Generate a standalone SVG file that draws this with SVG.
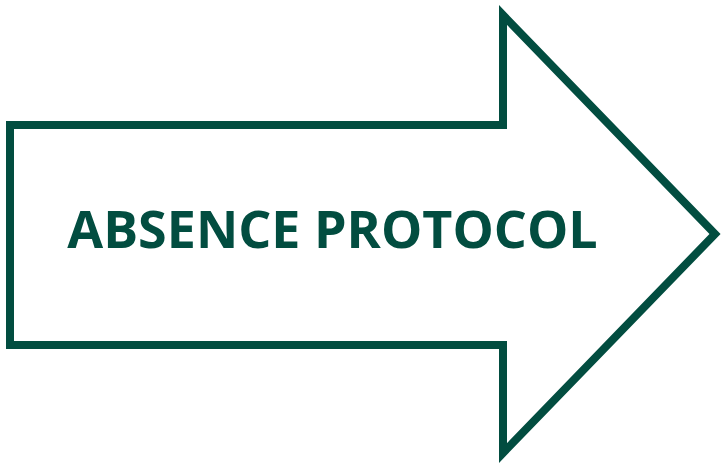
<svg xmlns="http://www.w3.org/2000/svg" width="722" height="464" viewBox="0 0 722 464">
<style>
.arrow{fill:#ffffff;stroke:#024D40;stroke-width:8;stroke-linejoin:miter;stroke-miterlimit:10}
.label{font-family:"Open Sans","Noto Sans",sans-serif;font-weight:700;font-size:52px;fill:#024D40}
</style>
<g id="arrow-node">
<path class="arrow" d="M10,125 L503,125 L503,15 L715,234 L503,453 L503,345 L10,345 Z"/>
<text class="label" x="332.5" y="248" text-anchor="middle">ABSENCE PROTOCOL</text>
</g>
<g id="connectors"></g>
</svg>
